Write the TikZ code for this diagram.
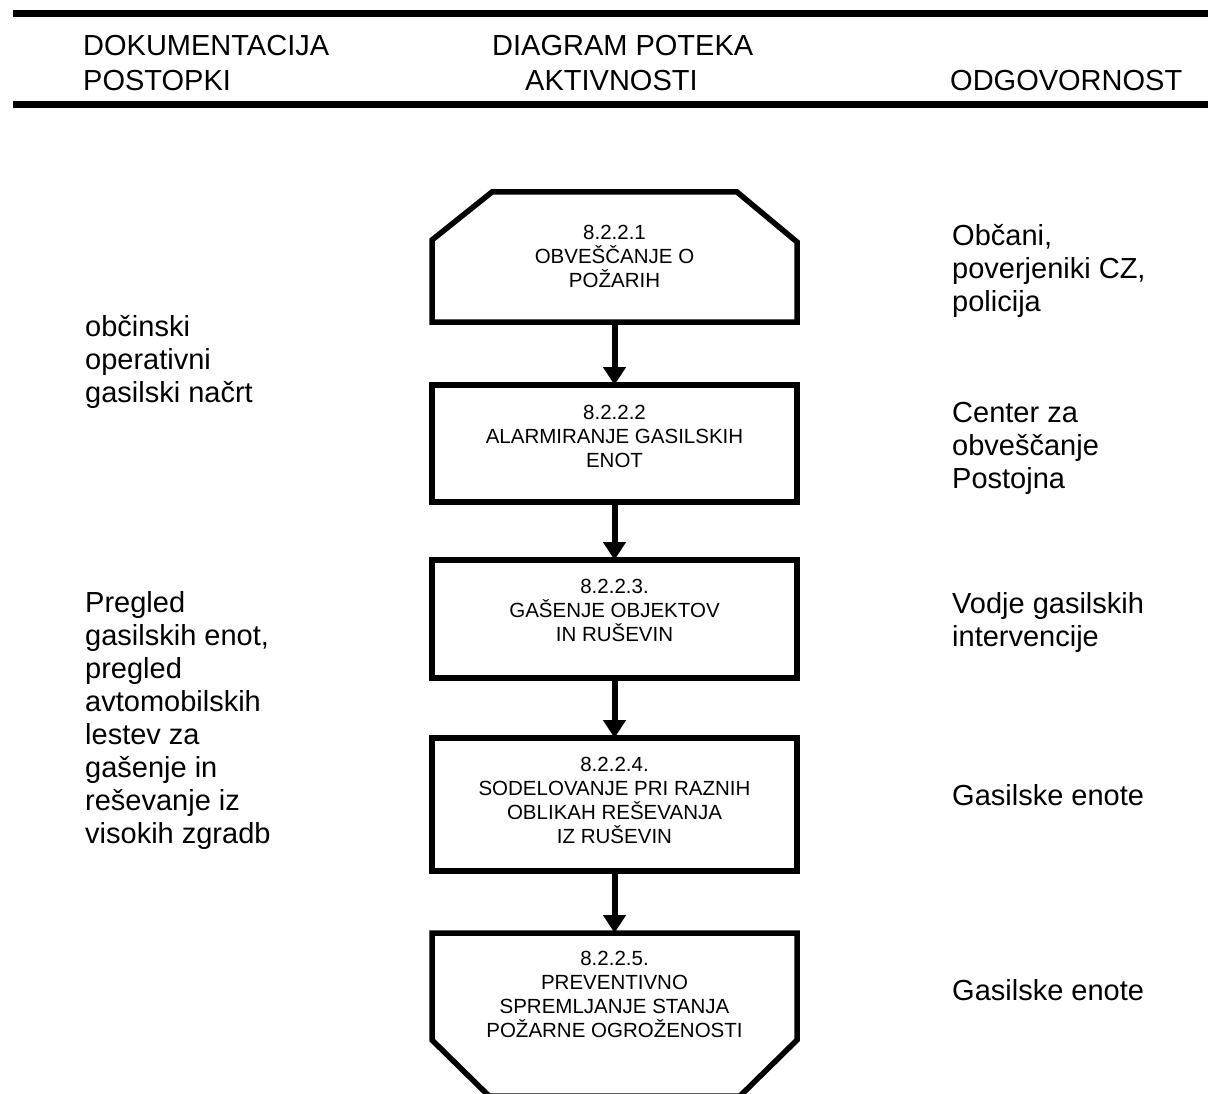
\documentclass[tikz,border=0pt]{standalone}
\usepackage{fontspec}
\setmainfont{Liberation Sans}
\usetikzlibrary{arrows.meta,calc}
\begin{document}
\begin{tikzpicture}[x=1pt,y=-1pt,
  boxline/.style={draw=black, line width=5.5pt, line join=miter},
  boxnode/.style={rectangle, inner sep=0pt, outer sep=0pt, minimum width=365pt},
  boxtext/.style={align=center, anchor=north, inner sep=0pt, font=\fontsize{20.5}{24}\selectfont},
  coltext/.style={align=left, anchor=north west, inner sep=0pt, font=\fontsize{29}{33}\selectfont},
  headtext/.style={anchor=base west, inner sep=0pt, font=\fontsize{29}{33}\selectfont},
  arr/.style={line width=6pt, -{Triangle[width=22pt,length=18pt]}},
  rulestyle/.style={line width=7pt}]
\useasboundingbox (0,0) rectangle (1208,1094);

% header rules
\draw[rulestyle] (13,13.5) -- (1208,13.5);
\draw[rulestyle] (13,104.5) -- (1208,104.5);

% header texts
\node[headtext] (h1) at (83,56) {DOKUMENTACIJA};
\node[headtext] (h2) at (83,91) {POSTOPKI};
\node[headtext] (h3) at (492,56) {DIAGRAM POTEKA};
\node[headtext] (h4) at (525,91) {AKTIVNOSTI};
\node[headtext] (h5) at (950,91) {ODGOVORNOST};

% boxes
\node[boxnode, minimum height=130pt] (b1) at (614.5,257) {};
\draw[boxline] (b1.south west) -- ($(b1.north west)+(0,48)$) -- ($(b1.north west)+(60,0)$)
  -- ($(b1.north east)+(-60,0)$) -- ($(b1.north east)+(0,50)$) -- (b1.south east) -- cycle;
\node[boxnode, boxline, minimum height=117pt] (b2) at (614.5,443.5) {};
\node[boxnode, boxline, minimum height=118pt] (b3) at (614.5,619) {};
\node[boxnode, boxline, minimum height=133pt] (b4) at (614.5,804.5) {};
\node[boxnode, minimum height=163pt] (b5) at (614.5,1014.5) {};
\draw[boxline] (b5.north west) -- ($(b5.south west)+(0,-56)$) -- ($(b5.south west)+(57,0)$)
  -- ($(b5.south east)+(-57,0)$) -- ($(b5.south east)+(0,-56)$) -- (b5.north east) -- cycle;

% box texts
\node[boxtext] (t1) at (614.5,225.3) {8.2.2.1\\OBVEŠČANJE O\\POŽARIH};
\node[boxtext] (t2) at (614.5,405) {8.2.2.2\\ALARMIRANJE GASILSKIH\\ENOT};
\node[boxtext] (t3) at (614.5,579) {8.2.2.3.\\GAŠENJE OBJEKTOV\\IN RUŠEVIN};
\node[boxtext] (t4) at (614.5,757) {8.2.2.4.\\SODELOVANJE PRI RAZNIH\\OBLIKAH REŠEVANJA\\IZ RUŠEVIN};
\node[boxtext] (t5) at (614.5,951) {8.2.2.5.\\PREVENTIVNO\\SPREMLJANJE STANJA\\POŽARNE OGROŽENOSTI};

% arrows
\draw[arr] (b1.south) -- (b2.north);
\draw[arr] (b2.south) -- (b3.north);
\draw[arr] (b3.south) -- (b4.north);
\draw[arr] (b4.south) -- (b5.north);

% left column
\node[coltext] (l1) at (85,315) {občinski\\operativni\\gasilski načrt};
\node[coltext] (l2) at (85,591) {Pregled\\gasilskih enot,\\pregled\\avtomobilskih\\lestev za\\gašenje in\\reševanje iz\\visokih zgradb};

% right column
\node[coltext] (r1) at (952,224) {Občani,\\poverjeniki CZ,\\policija};
\node[coltext] (r2) at (952,402) {Center za\\obveščanje\\Postojna};
\node[coltext] (r3) at (952,592) {Vodje gasilskih\\intervencije};
\node[coltext] (r4) at (952,784) {Gasilske enote};
\node[coltext] (r5) at (952,979) {Gasilske enote};
\end{tikzpicture}
\end{document}
